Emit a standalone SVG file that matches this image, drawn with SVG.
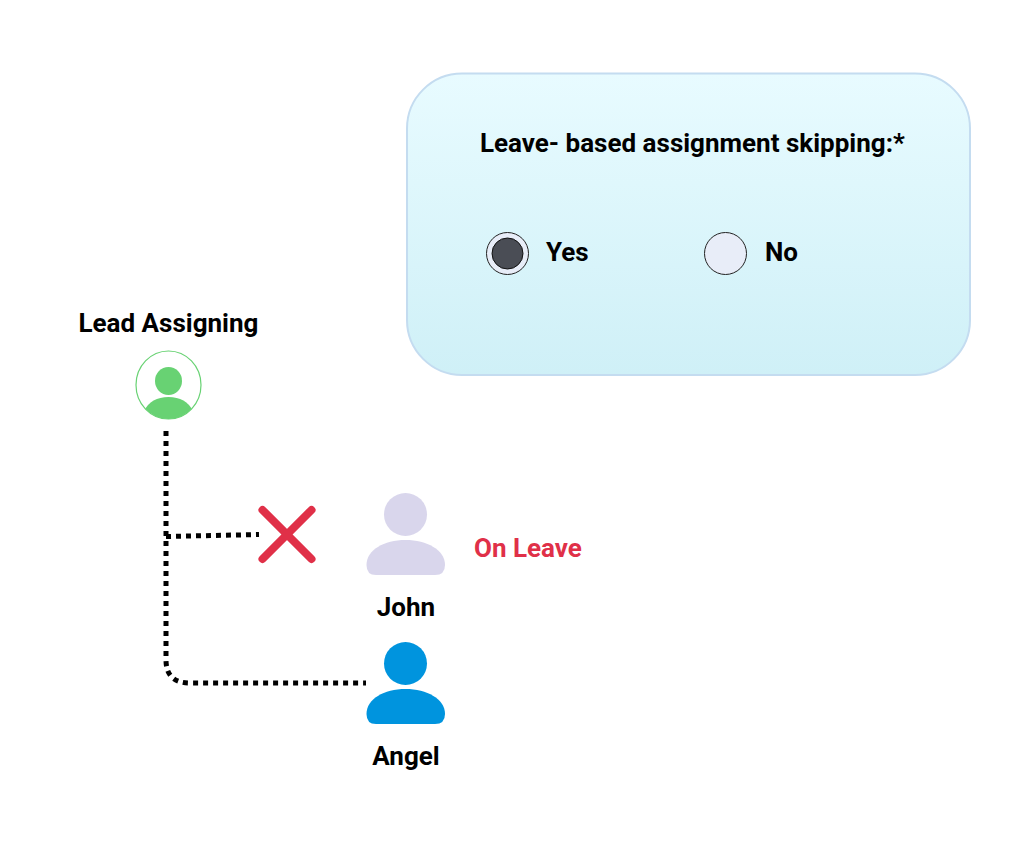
<svg xmlns="http://www.w3.org/2000/svg" width="1029" height="858" viewBox="0 0 1029 858">
<style>
text{font-family:Roboto,"Liberation Sans",sans-serif;font-weight:700;fill:#000;font-size:26px}
.dot{fill:none;stroke:#000;stroke-width:5;stroke-dasharray:5 5}
.radio{stroke:#222;stroke-width:1;fill:#e8edf8}
</style>
<defs>
<linearGradient id="panel" x1="0" y1="0" x2="0" y2="1"><stop offset="0" stop-color="#e8fbff"/><stop offset="1" stop-color="#cff0f7"/></linearGradient>
<clipPath id="leadClip"><ellipse cx="168.500" cy="385" rx="32.500" ry="34"/></clipPath>
</defs>
<rect width="1029" height="858" fill="#fff"/>
<g id="panel-node">
<rect x="407" y="73.500" width="563" height="301.500" rx="55" ry="55" fill="url(#panel)" stroke="#c4dcf0" stroke-width="2"/>
<text x="480" y="152">Leave- based assignment skipping:*</text>
</g>
<g id="radio-yes">
<circle class="radio" cx="507.500" cy="253.500" r="21"/>
<circle cx="507.500" cy="253.500" r="15.500" fill="#4a4d55" stroke="#111" stroke-width="1"/>
<text x="546" y="261">Yes</text>
</g>
<g id="radio-no">
<circle class="radio" cx="725.500" cy="253.500" r="21"/>
<text x="765" y="261">No</text>
</g>
<g id="connectors">
<path class="dot" d="M166 431V660Q166 683 190 683H366"/>
<path class="dot" d="M166 536.500L259 534.500"/>
</g>
<g id="lead-assigning">
<text x="78.500" y="332">Lead Assigning</text>
<ellipse cx="168.500" cy="385" rx="32.500" ry="34" fill="#fff" stroke="#68d273" stroke-width="1.200"/>
<ellipse cx="168.500" cy="381" rx="13.500" ry="14" fill="#68d273"/>
<path clip-path="url(#leadClip)" d="M144 420V411Q151 397 168.500 397Q186 397 193 411V420Z" fill="#68d273"/>
</g>
<g id="cross">
<path d="M262.500 510L311.500 559M311.500 510L262.500 559" stroke="#e03048" stroke-width="8" stroke-linecap="round" fill="none"/>
</g>
<g id="john">
<circle cx="405.500" cy="514.500" r="21.500" fill="#d9d6ec"/>
<path d="M366.500 565C366.500 550 384 540 405.500 540S445 550 445 565Q445 575 435 575H376Q366.500 575 366.500 565Z" fill="#d9d6ec"/>
<text x="406" y="616" text-anchor="middle">John</text>
</g>
<text id="on-leave" x="474" y="557" style="fill:#e03048">On Leave</text>
<g id="angel">
<circle cx="405.500" cy="663.500" r="21.500" fill="#0094de"/>
<path d="M366.500 714C366.500 699 384 689 405.500 689S445 699 445 714Q445 724 435 724H376Q366.500 724 366.500 714Z" fill="#0094de"/>
<text x="406" y="765" text-anchor="middle">Angel</text>
</g>
</svg>
